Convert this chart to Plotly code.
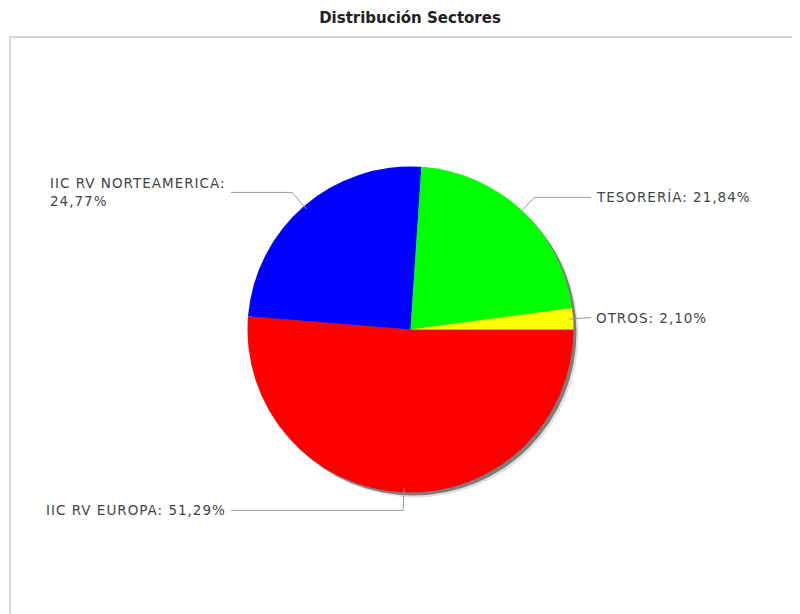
import math
import plotly.graph_objects as go

# ---- data ----
labels = ["IIC RV EUROPA", "IIC RV NORTEAMERICA", "TESORERÍA", "OTROS"]
values = [51.29, 24.77, 21.84, 2.10]
title_text = "Distribución Sectores"

# ---- style ----
colors = ["#ff0000", "#0000ff", "#00ff00", "#ffff00"]
W, H = 800, 614
PAGE_OFF = 8  # default page body margin
CX, CY, R = 410.5, 329.5, 163.0
START = 90.0  # degrees, clockwise from 12 o'clock
LEFT_COL, RIGHT_COL = 231, 591
FONT = "DejaVu Sans"


def px(x):
    return (x - PAGE_OFF) / W


def py(y):
    return 1 - (y - PAGE_OFF) / H


fig = go.Figure()
fig.add_trace(go.Pie(
    labels=labels,
    values=values,
    marker=dict(colors=colors, line=dict(width=0)),
    sort=False,
    direction="clockwise",
    rotation=START,
    textinfo="none",
    hoverinfo="label+percent",
    showlegend=False,
    domain=dict(x=[px(CX - R), px(CX + R)], y=[py(CY + R), py(CY - R)]),
))

shapes = []
# frame
shapes.append(dict(type="rect", xref="paper", yref="paper",
                   x0=px(10), x1=px(798), y0=py(618), y1=py(37),
                   line=dict(color="#d6d6d6", width=2), layer="below"))
# drop shadow of the pie
for off, col in [(5, "rgba(170,170,170,0.35)"), (3, "rgba(70,70,70,0.65)")]:
    shapes.append(dict(type="circle", xref="paper", yref="paper",
                       x0=px(CX - R + off), x1=px(CX + R + off),
                       y0=py(CY + R + off), y1=py(CY - R + off),
                       fillcolor=col, line=dict(width=0), layer="below"))

annotations = []
total = sum(values)
cum = 0.0
SP = '<span style="letter-spacing:1px">{}</span>'
for lab, v in zip(labels, values):
    mid = math.radians(START + (cum + v / 2) / total * 360)
    cum += v
    s, c = math.sin(mid), -math.cos(mid)
    x0, y0 = CX + (R - 4) * s, CY + (R - 4) * c
    x1, y1 = CX + (R + 18) * s, CY + (R + 18) * c
    left = s < 0
    x2 = LEFT_COL if left else RIGHT_COL
    line = dict(color="#9a9a9a", width=1)
    shapes.append(dict(type="line", xref="paper", yref="paper",
                       x0=px(x0), y0=py(y0), x1=px(x1), y1=py(y1), line=line))
    shapes.append(dict(type="line", xref="paper", yref="paper",
                       x0=px(x1), y0=py(y1), x1=px(x2), y1=py(y1), line=line))
    pct = f"{v / total * 100:.2f}".replace(".", ",") + "%"
    txt = f"{lab}: {pct}"
    if len(txt) > 24:
        txt = SP.format(f"{lab}:") + "<br>" + SP.format(pct)
    else:
        txt = SP.format(txt)
    annotations.append(dict(
        xref="paper", yref="paper",
        x=px(x2 - 3 if left else x2 + 3), y=py(y1),
        xanchor="right" if left else "left", yanchor="middle",
        align="left", text=txt, showarrow=False,
        font=dict(family=FONT, size=13.5, color="#444444"),
    ))

fig.update_layout(
    width=W, height=H,
    margin=dict(l=0, r=0, t=0, b=0),
    paper_bgcolor="white",
    plot_bgcolor="white",
    title=dict(text=f"<b>{title_text}</b>", x=px(410), xanchor="center",
               y=py(18), yanchor="middle", yref="container",
               font=dict(family=FONT, size=15, color="#222222")),
    shapes=shapes,
    annotations=annotations,
)

fig.write_html("out.html")
